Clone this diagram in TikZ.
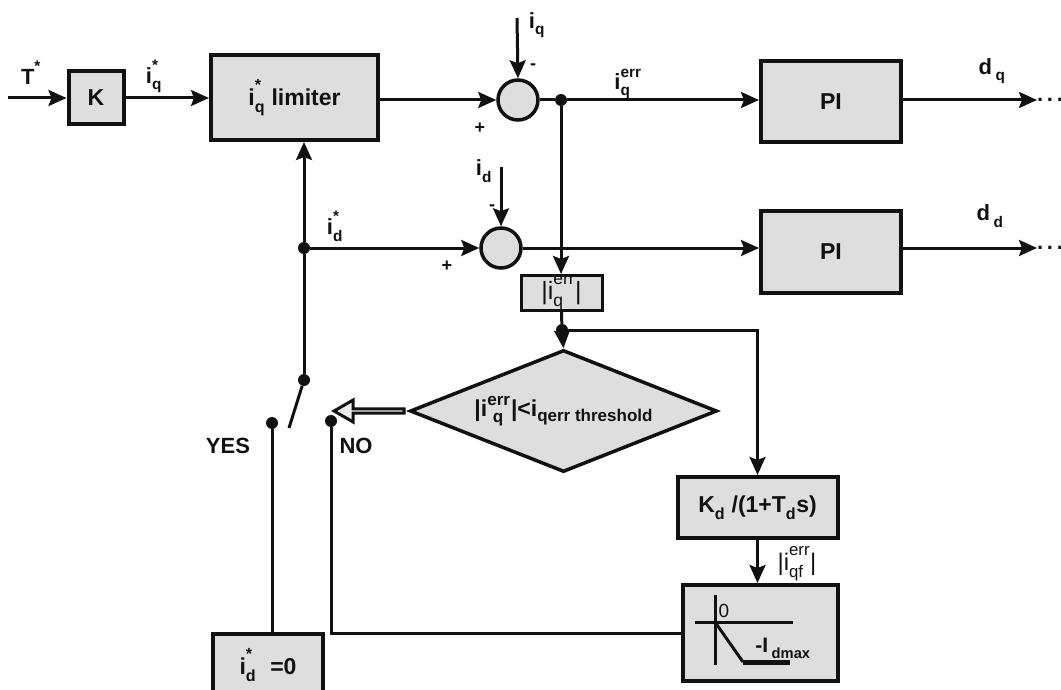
\documentclass[tikz,border=0pt]{standalone}
\usepackage{fontspec}
\setmainfont{Liberation Sans}
\usetikzlibrary{arrows.meta,positioning,shapes.geometric,shapes.arrows}
\definecolor{ink}{HTML}{111111}
\definecolor{stipple}{HTML}{DEDEDE}
\newcommand{\supx}[1]{\raisebox{0.45ex}{\textsuperscript{#1}}}
\newcommand{\subx}[1]{\raisebox{-0.25ex}{\textsubscript{#1}}}
\newcommand{\iqstar}{i\rlap{\supx{*}}\subx{q}}
\newcommand{\idstar}{i\rlap{\supx{*}}\subx{d}}
\newcommand{\iqerr}{i\rlap{\subx{q}}\supx{err}}
\tikzset{
  base/.style={font=\bfseries\fontsize{23}{27}\selectfont,draw=ink,line width=4pt,fill=stipple,inner sep=2pt},
  block/.style={base,rectangle},
  sumnode/.style={base,circle,minimum size=40pt,line width=3.5pt},
  decision/.style={base,diamond,aspect=2.52,line width=3.5pt,inner sep=0pt},
  hollow/.style={single arrow,draw=ink,fill=stipple!60,line width=3pt,inner sep=0pt,minimum width=22pt,minimum height=70pt,single arrow head extend=6pt,single arrow tip angle=60,shape border rotate=180},
  junction/.style={circle,fill=ink,inner sep=0pt,minimum size=12pt},
  lbl/.style={font=\bfseries\fontsize{22}{26}\selectfont,inner sep=1pt},
  sign/.style={font=\bfseries\fontsize{18}{20}\selectfont,inner sep=0pt},
  small/.style={font=\fontsize{19}{21}\selectfont,inner sep=0pt},
  wire/.style={line width=3pt,draw=ink},
  flow/.style={wire,-{Stealth[length=18pt,width=16pt,inset=3pt]}},
  every node/.style={text=ink}
}
\begin{document}
\begin{tikzpicture}[x=1pt,y=-1pt]
\useasboundingbox (0,0) rectangle (1061,690);

% q axis
\coordinate (Tin) at (8,98);
\node[block,minimum width=55pt,minimum height=53pt] (K) at (96,98) {K};
\node[block,minimum width=167pt,minimum height=85pt] (lim) at (294.5,97.5) {\iqstar\ limiter};
\node[sumnode] (sumq) at (518,100) {};
\node[junction] (jq) at (561,100) {};
\node[block,minimum width=140pt,minimum height=81pt] (PIq) at (831,101.5) {PI};
\node[lbl,anchor=west,inner sep=0pt] (dqdots) at (1037,100) {.\,.\,.};
\coordinate (iqin) at (517,18);

\node[lbl] (Tlbl) at (31,73) {T\supx{*}};
\node[lbl] (iqslbl) at (154,76) {\iqstar};
\node[lbl] (iqlbl) at (537,25) {i\subx{q}};
\node[sign] (iqminus) at (533,67) {-};
\node[sign] (iqplus) at (480,128) {+};
\node[lbl] (iqerrlbl) at (628,84) {\iqerr};
\node[lbl] (dqlbl) at (992,71) {d\,\subx{q}};

% d axis
\node[junction] (jd) at (304,248) {};
\node[sumnode] (sumd) at (501,248) {};
\node[block,minimum width=140pt,minimum height=82pt] (PId) at (831,252) {PI};
\node[lbl,anchor=west,inner sep=0pt] (dddots) at (1037,248) {.\,.\,.};
\coordinate (idin) at (501,167);

\node[lbl] (idslbl) at (335,226) {\idstar};
\node[lbl] (idlbl) at (484,171) {i\subx{d}};
\node[sign] (idminus) at (492,208) {-};
\node[sign] (idplus) at (447,266) {+};
\node[lbl] (ddlbl) at (990,216) {d\,\subx{d}};

% threshold logic
\node[block,line width=3pt,minimum width=81pt,minimum height=32pt,inner sep=0pt,font=\fontsize{25}{27}\selectfont] (absq) at (561.5,293) {|\iqerr|};
\node[junction] (jabs) at (562,330) {};
\node[decision,minimum width=307pt,minimum height=122pt] (thr) at (563.5,411) {|i\rlap{\raisebox{0.9ex}{\fontsize{17}{19}\selectfont err}}\raisebox{-0.5ex}{\fontsize{17}{19}\selectfont\,\,q}\,\,|<i\raisebox{-0.4ex}{\fontsize{17}{19}\selectfont qerr threshold}};
\node[hollow] (noarr) at (371,411) {};
\node[block,minimum width=160pt,minimum height=61pt] (Kd) at (757.5,507.5) {K\subx{d} /(1+T\subx{d}s)};
\node[block,minimum width=155pt,minimum height=96pt] (dz) at (760.5,633) {};
\node[small,font=\fontsize{24}{26}\selectfont] (iqflbl) at (797,564) {|i\rlap{\subx{qf}}\supx{err}|};

% switch
\node[junction] (pivot) at (304,380) {};
\node[junction] (yes) at (272,423) {};
\node[junction] (no) at (331,421) {};
\coordinate (blade) at (289,428);
\node[lbl] (yeslbl) at (228,446) {YES};
\node[lbl] (nolbl) at (356,446) {NO};
\node[block,minimum width=110pt,minimum height=62pt] (idz) at (268,665) {\idstar\hspace{14pt}=0};

% dead-zone characteristic
\draw[wire] (715,595) -- (715,665);
\draw[wire] (695,622) -- (793,622);
\draw[wire] (715,622) -- (743,662);
\draw[line width=5pt,draw=ink] (743,662) -- (790,662);
\node[small] (zerolbl) at (724,611) {0};
\node[lbl,font=\bfseries\fontsize{21}{23}\selectfont] (idmaxlbl) at (783,648) {-I\,\subx{dmax}};

% connections
\draw[flow] (Tin) -- (K);
\draw[flow] (K) -- (K -| lim.west);
\draw[flow] (lim.east |- sumq) -- (sumq.west);
\draw[flow] (iqin) -- (sumq.north);
\draw[wire] (sumq.east) -- (jq);
\draw[flow] (jq) -- (jq -| PIq.west);
\draw[flow] (PIq.east |- jq) -- (dqdots.west);
\draw[flow] (jq) -- (jq |- absq.north);
\draw[flow] (idin) -- (sumd.north);
\draw[flow] (jd) -- (sumd.west);
\draw[flow] (sumd.east) -- (sumd.east -| PId.west);
\draw[flow] (PId.east |- sumd.east) -- (dddots.west);
\draw[wire] (absq.south) -- (jabs);
\draw[flow] (jabs) -- (thr.north);
\draw[flow] (jabs) -| (Kd.north);
\draw[flow] (Kd.south) -- (Kd.south |- dz.north);
\draw[wire] (pivot) -- (jd);
\draw[flow] (jd) -- (jd |- lim.south);
\draw[wire] (pivot) -- (blade);
\draw[wire] (yes) -- (yes |- idz.north);
\draw[wire] (no) |- (dz.west);
\end{tikzpicture}
\end{document}
